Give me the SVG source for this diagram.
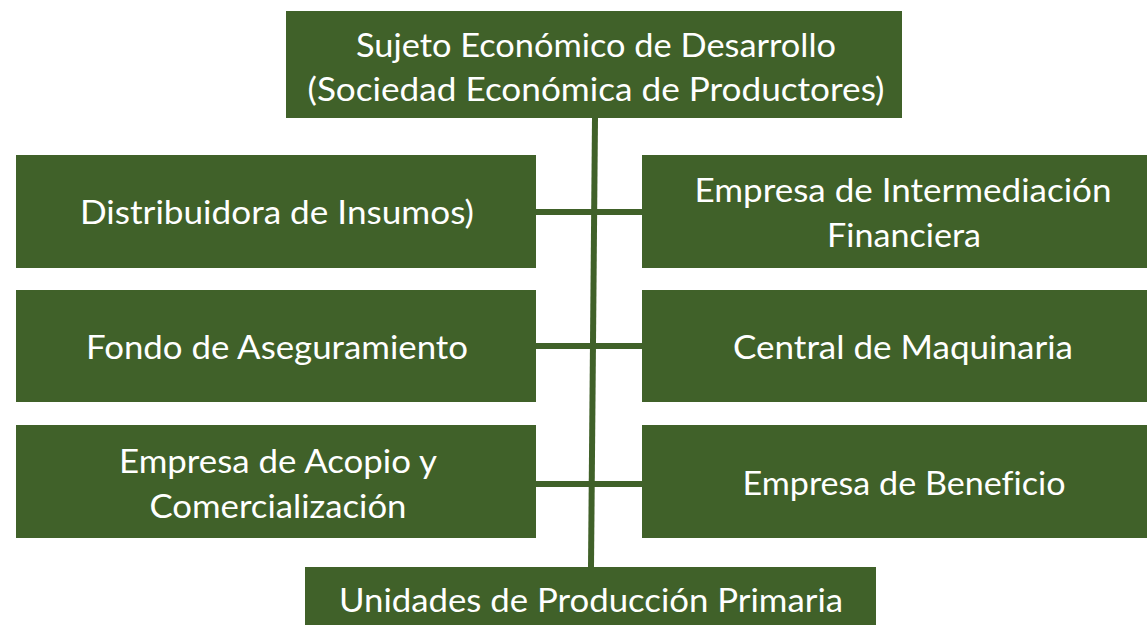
<svg xmlns="http://www.w3.org/2000/svg" width="1147" height="625" viewBox="0 0 1147 625">
<style>
.box{fill:#406129}
.t{fill:#ffffff;font-family:Lato,"Open Sans","Liberation Sans",sans-serif;font-size:33px;text-anchor:middle;font-variant-ligatures:none}
.c{stroke:#406129;stroke-width:6;fill:none}
</style>
<rect width="1147" height="625" fill="#ffffff"/>
<g id="connectors">
<line class="c" x1="595" y1="118" x2="591" y2="567"/>
<line class="c" x1="536" y1="212" x2="642" y2="212"/>
<line class="c" x1="536" y1="346" x2="642" y2="346"/>
<line class="c" x1="536" y1="484" x2="642" y2="484"/>
</g>
<g id="sujeto">
<rect class="box" x="286" y="11" width="616" height="107"/>
<text class="t" x="596" y="57" textLength="480" lengthAdjust="spacingAndGlyphs">Sujeto Económico de Desarrollo</text>
<text class="t" x="596" y="101" textLength="577" lengthAdjust="spacingAndGlyphs">(Sociedad Económica de Productores)</text>
</g>
<g id="distribuidora">
<rect class="box" x="16" y="155" width="520" height="113"/>
<text class="t" x="277" y="224" textLength="394" lengthAdjust="spacingAndGlyphs">Distribuidora de Insumos)</text>
</g>
<g id="intermediacion">
<rect class="box" x="642" y="155" width="505" height="113"/>
<text class="t" x="903" y="202" textLength="417" lengthAdjust="spacingAndGlyphs">Empresa de Intermediación</text>
<text class="t" x="904" y="247" textLength="154" lengthAdjust="spacingAndGlyphs">Financiera</text>
</g>
<g id="fondo">
<rect class="box" x="16" y="290" width="520" height="112"/>
<text class="t" x="277" y="359" textLength="382" lengthAdjust="spacingAndGlyphs">Fondo de Aseguramiento</text>
</g>
<g id="maquinaria">
<rect class="box" x="642" y="290" width="505" height="112"/>
<text class="t" x="903" y="359" textLength="340" lengthAdjust="spacingAndGlyphs">Central de Maquinaria</text>
</g>
<g id="acopio">
<rect class="box" x="16" y="425" width="520" height="113"/>
<text class="t" x="278" y="473" textLength="318" lengthAdjust="spacingAndGlyphs">Empresa de Acopio y</text>
<text class="t" x="278" y="518" textLength="257" lengthAdjust="spacingAndGlyphs">Comercialización</text>
</g>
<g id="beneficio">
<rect class="box" x="642" y="425" width="505" height="113"/>
<text class="t" x="904" y="495" textLength="323" lengthAdjust="spacingAndGlyphs">Empresa de Beneficio</text>
</g>
<g id="unidades">
<rect class="box" x="305" y="567" width="571" height="58"/>
<text class="t" x="591" y="612" textLength="504" lengthAdjust="spacingAndGlyphs">Unidades de Producción Primaria</text>
</g>
</svg>
